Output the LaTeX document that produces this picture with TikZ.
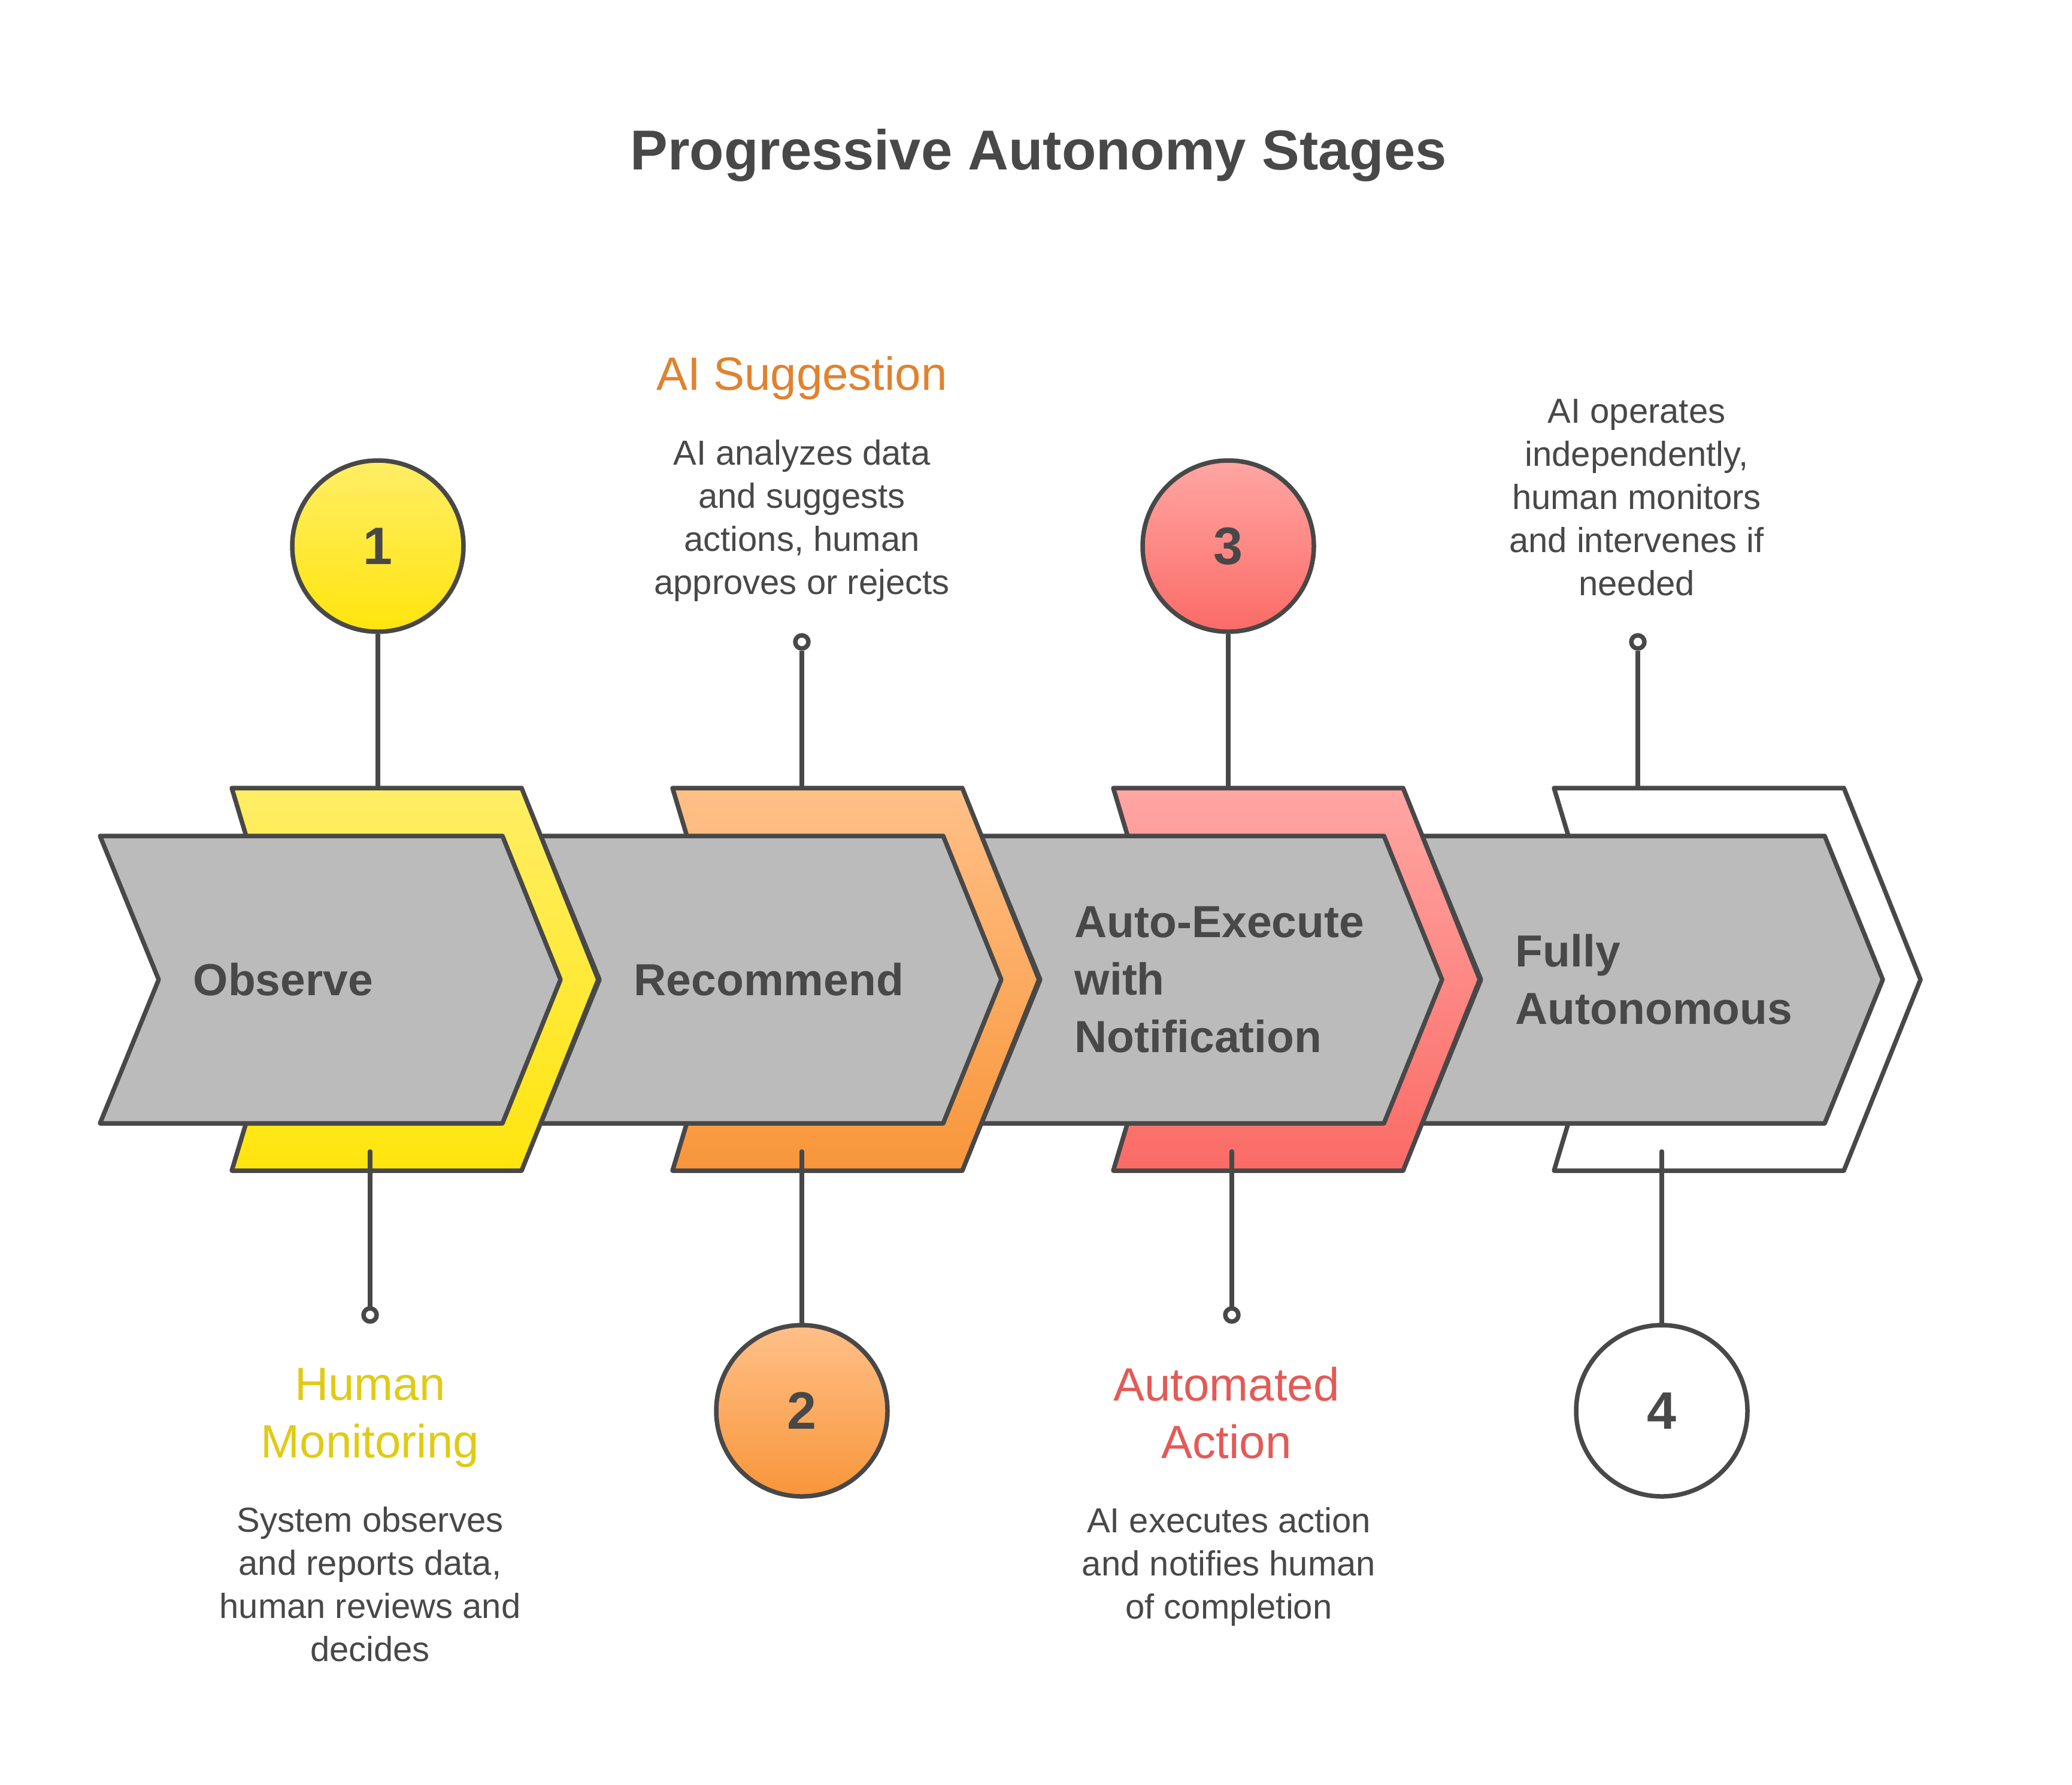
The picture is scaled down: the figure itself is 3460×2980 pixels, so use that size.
\documentclass[tikz,border=0pt]{standalone}
\usepackage{fontspec}
\setmainfont{Liberation Sans}
\definecolor{dgray}{HTML}{484848}
\definecolor{chevgray}{HTML}{BBBBBB}
\definecolor{ytop}{HTML}{FFEE66}
\definecolor{ybot}{HTML}{FFE50D}
\definecolor{otop}{HTML}{FFC088}
\definecolor{obot}{HTML}{F8963A}
\definecolor{rtop}{HTML}{FFA6A3}
\definecolor{rbot}{HTML}{FB6B66}
\definecolor{ytext}{HTML}{E0CB14}
\definecolor{otext}{HTML}{E0822E}
\definecolor{rtext}{HTML}{E35A57}
\begin{document}
\begin{tikzpicture}[x=0.25pt,y=-0.25pt,line join=round,
  outline/.style={draw=dgray, line width=1.875pt},
  graychev/.style={outline, fill=chevgray},
  yelshade/.style={top color=ytop, bottom color=ybot},
  orashade/.style={top color=otop, bottom color=obot},
  redshade/.style={top color=rtop, bottom color=rbot},
  edge/.style={draw=dgray, line width=1.875pt},
  stub/.style={edge, line cap=round},
  num/.style={circle, outline, minimum size=71.5pt, inner sep=0pt,
    font=\fontsize{22}{26}\selectfont\bfseries, text=dgray},
  pin/.style={circle, outline, fill=white, minimum size=5.5pt, inner sep=0pt},
  title/.style={font=\fontsize{23.5}{28}\selectfont\bfseries, text=dgray, inner sep=0pt},
  lab/.style={font=\fontsize{18.75}{24}\selectfont\bfseries, text=dgray, align=left, anchor=west, inner sep=0pt},
  head/.style={font=\fontsize{19.5}{24}\selectfont, align=center, anchor=north, inner sep=0pt},
  desc/.style={font=\fontsize{14.5}{18}\selectfont, text=dgray, align=center, anchor=north, inner sep=0pt}
]
\useasboundingbox (0,0) rectangle (3460,2980);

% title
\node[title, anchor=base] (title) at (1734,283) {Progressive Autonomy Stages};

% chevrons, back to front
\path[outline, fill=white] (2595,1316) -- (3079,1316) -- (3207,1636) -- (3079,1955) -- (2595,1955) -- (2691,1636) -- cycle;
\path[graychev] (2375,1396) -- (3047,1396) -- (3144,1636) -- (3047,1876) -- (2375,1876) -- (2473,1636) -- cycle;
\path[outline, redshade] (1859,1316) -- (2343,1316) -- (2471,1636) -- (2343,1955) -- (1859,1955) -- (1955,1636) -- cycle;
\path[graychev] (1639,1396) -- (2311,1396) -- (2408,1636) -- (2311,1876) -- (1639,1876) -- (1737,1636) -- cycle;
\path[outline, orashade] (1123,1316) -- (1607,1316) -- (1735,1636) -- (1607,1955) -- (1123,1955) -- (1219,1636) -- cycle;
\path[graychev] (903,1396) -- (1575,1396) -- (1672,1636) -- (1575,1876) -- (903,1876) -- (1001,1636) -- cycle;
\path[outline, yelshade] (387,1316) -- (871,1316) -- (999,1636) -- (871,1955) -- (387,1955) -- (483,1636) -- cycle;
\path[graychev] (167,1396) -- (839,1396) -- (936,1636) -- (839,1876) -- (167,1876) -- (265,1636) -- cycle;

% attach points on the coloured chevrons
\coordinate (c1top) at (631,1316);
\coordinate (c2top) at (1339,1316);
\coordinate (c3top) at (2051,1316);
\coordinate (c4top) at (2735,1316);
\coordinate (c1bot) at (618,1923);
\coordinate (c2bot) at (1339,1923);
\coordinate (c3bot) at (2057,1923);
\coordinate (c4bot) at (2775,1923);

% chevron labels
\node[lab] (l1) at (322,1636) {Observe};
\node[lab] (l2) at (1058,1636) {Recommend};
\node[lab] (l3) at (1794,1636) {Auto-Execute\\with\\Notification};
\node[lab] (l4) at (2530,1636) {Fully\\Autonomous};

% number circles
\node[num, yelshade] (n1) at (631,912) {1};
\node[num, orashade] (n2) at (1339,2356) {2};
\node[num, redshade] (n3) at (2051,912) {3};
\node[num, fill=white] (n4) at (2775,2356) {4};

% pins
\node[pin] (p1) at (618,2196) {};
\node[pin] (p2) at (1339,1072) {};
\node[pin] (p3) at (2057,2196) {};
\node[pin] (p4) at (2735,1072) {};

% connectors
\draw[edge] (n1) -- (c1top);
\draw[edge] (p2) -- (c2top);
\draw[edge] (n3) -- (c3top);
\draw[edge] (p4) -- (c4top);
\draw[stub] (c1bot) -- (p1);
\draw[stub] (c2bot) -- (n2);
\draw[stub] (c3bot) -- (p3);
\draw[stub] (c4bot) -- (n4);

% headings
\node[head, text=ytext] (h1) at (618,2284) {Human\\Monitoring};
\node[head, text=otext] (h2) at (1339,594) {AI Suggestion};
\node[head, text=rtext] (h3) at (2048,2282) {Automated\\Action};

% descriptions
\node[desc] (d1) at (618,2516) {System observes\\and reports data,\\human reviews and\\decides};
\node[desc] (d2) at (1339,734) {AI analyzes data\\and suggests\\actions, human\\approves or rejects};
\node[desc] (d3) at (2052,2517) {AI executes action\\and notifies human\\of completion};
\node[desc] (d4) at (2733,666) {AI operates\\independently,\\human monitors\\and intervenes if\\needed};
\end{tikzpicture}
\end{document}
